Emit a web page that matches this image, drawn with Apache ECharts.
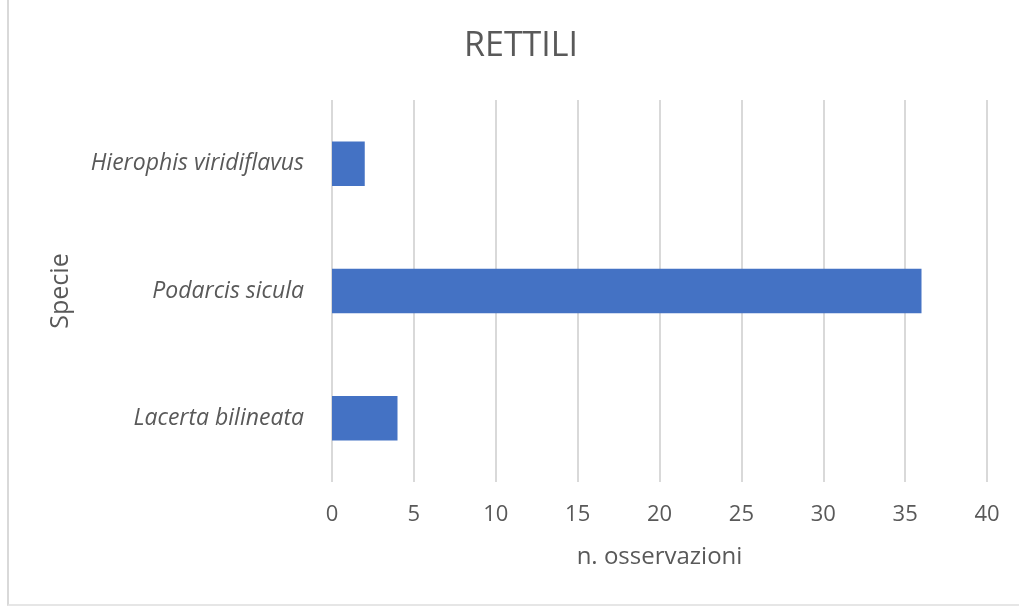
<!DOCTYPE html>
<html>
<head>
<meta charset="utf-8">
<script src="https://cdn.jsdelivr.net/npm/echarts@6/dist/echarts.min.js"></script>
<style>
    html, body { margin: 0; padding: 0; background: #fff; }
    #RettiliChart { width: 1019px; height: 606px; }
    .frame { position: absolute; left: 7px; top: -2px; width: 1020px; height: 606px; border-left: 2px solid #d9d9d9; border-bottom: 2px solid #e6e6e6; pointer-events: none; }
</style>
</head>
<body>
<div id="RettiliChart"></div>
<div class="frame"></div>
<script>
    // dati
    var specie = ['Lacerta bilineata', 'Podarcis sicula', 'Hierophis viridiflavus'];
    var osservazioni = [4, 36, 2];
    var xMin = 0, xMax = 40, xStep = 5;

    var chart = echarts.init(document.getElementById('RettiliChart'));
    var option = {
        animation: false,
        title: {
            text: 'RETTILI',
            left: 459,
            top: 24,
            textStyle: {
                fontFamily: 'Open Sans',
                fontSize: 34,
                fontWeight: 'normal',
                color: '#595959'
            }
        },
        grid: {
            left: 332,
            right: 32,
            top: 100,
            bottom: 124,
            containLabel: false
        },
        xAxis: {
            type: 'value',
            min: xMin,
            max: xMax,
            interval: xStep,
            name: 'n. osservazioni',
            nameLocation: 'middle',
            nameGap: 63,
            nameTextStyle: {
                fontFamily: 'Open Sans',
                fontSize: 24,
                color: '#595959'
            },
            axisLine: { show: false },
            axisTick: { show: false },
            splitLine: {
                show: true,
                lineStyle: { color: '#d9d9d9', width: 2 }
            },
            axisLabel: {
                margin: 22,
                fontFamily: 'Open Sans',
                fontSize: 22,
                color: '#595959'
            }
        },
        yAxis: {
            type: 'category',
            data: specie,
            name: 'Specie',
            nameLocation: 'middle',
            nameGap: 259,
            nameRotate: 90,
            nameTextStyle: {
                fontFamily: 'Open Sans',
                fontSize: 25,
                color: '#595959'
            },
            axisLine: { show: false },
            axisTick: { show: false },
            splitLine: { show: false },
            axisLabel: {
                margin: 28,
                fontFamily: 'Open Sans',
                fontStyle: 'italic',
                fontSize: 23,
                color: '#595959'
            }
        },
        series: [
            {
                type: 'bar',
                data: osservazioni,
                barWidth: '35%',
                itemStyle: { color: '#4472c4' }
            }
        ]
    };
    chart.setOption(option, true);
</script>
</body>
</html>
